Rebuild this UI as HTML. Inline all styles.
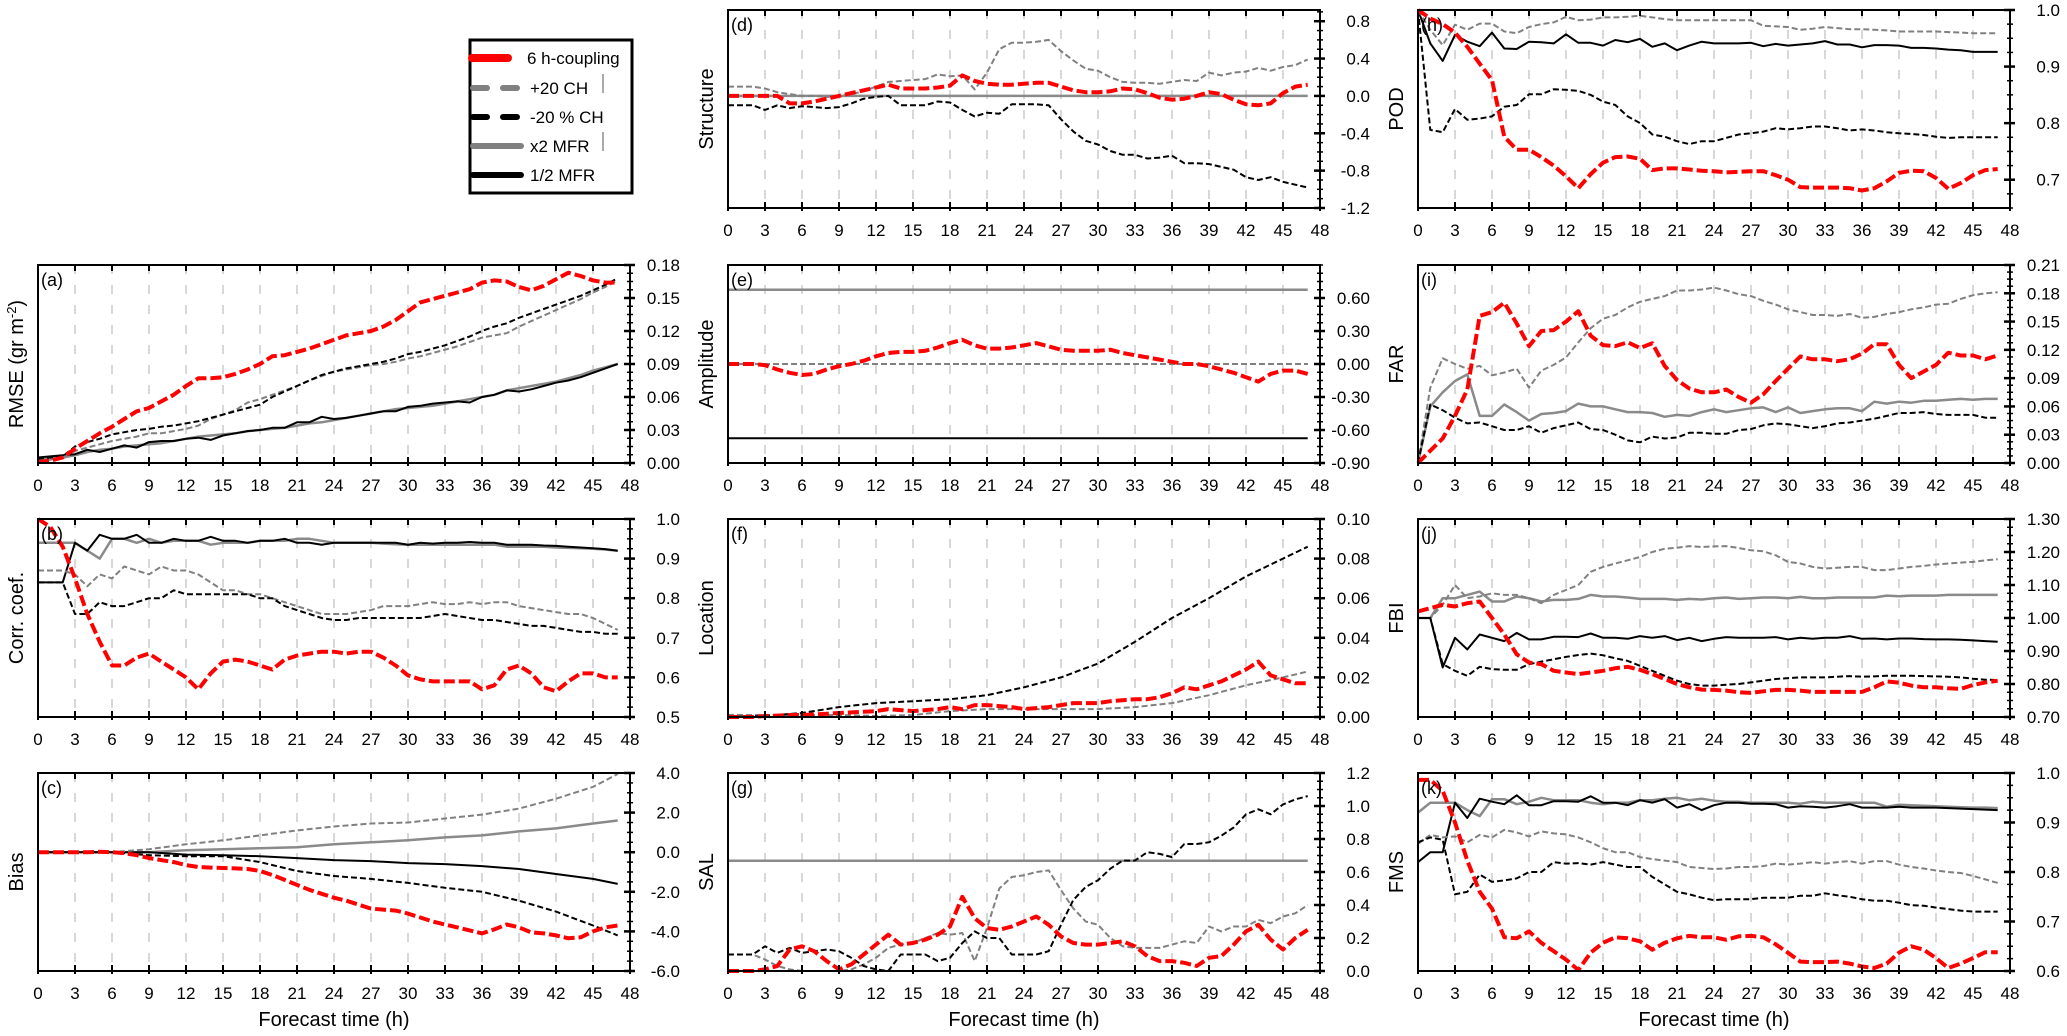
<!DOCTYPE html>
<html><head><meta charset="utf-8">
<style>
html,body{margin:0;padding:0;background:#fff;}
svg{display:block;font-family:"Liberation Sans",sans-serif;}
</style></head>
<body>
<svg id="fig" width="2067" height="1036" viewBox="0 0 2067 1036" xmlns="http://www.w3.org/2000/svg">
<g>
<rect x="470" y="40" width="162" height="153" fill="#fff" stroke="#000" stroke-width="3"/>
<g><line x1="472" y1="58" x2="508" y2="58" stroke="#f00" stroke-width="8" stroke-linecap="round"/><text x="527" y="64" font-size="17">6 h-coupling</text></g>
<g><line x1="473" y1="88" x2="520" y2="88" stroke="#808080" stroke-width="6" stroke-linecap="round" stroke-dasharray="14 16"/><text x="530" y="94" font-size="17">+20 CH</text><line x1="603" y1="74" x2="603" y2="93" stroke="#555" stroke-width="1"/></g>
<g><line x1="473" y1="117" x2="520" y2="117" stroke="#000" stroke-width="6" stroke-linecap="round" stroke-dasharray="14 16"/><text x="530" y="123" font-size="17">-20 % CH</text></g>
<g><line x1="473" y1="146" x2="521" y2="146" stroke="#808080" stroke-width="6" stroke-linecap="round"/><text x="530" y="152" font-size="17">x2 MFR</text><line x1="603" y1="132" x2="603" y2="151" stroke="#555" stroke-width="1"/></g>
<g><line x1="473" y1="175" x2="521" y2="175" stroke="#000" stroke-width="6" stroke-linecap="round"/><text x="530" y="181" font-size="17">1/2 MFR</text></g>
</g>
</svg>
<script>
// ---------- data ----------
const hours = [0,1,2,3,4,5,6,7,8,9,10,11,12,13,14,15,16,17,18,19,20,21,22,23,24,25,26,27,28,29,30,31,32,33,34,35,36,37,38,39,40,41,42,43,44,45,46,47];
const hours3 = [0,3,6,9,12,15,18,21,24,27,30,33,36,39,42,45,47];
const hoursFlat = [0,47];
const xTickLabels = ["0","3","6","9","12","15","18","21","24","27","30","33","36","39","42","45","48"];

// (a) RMSE
const rmseRed = [0.001,0.002,0.005,0.013,0.02,0.027,0.033,0.04,0.047,0.05,0.056,0.062,0.07,0.077,0.077,0.078,0.081,0.085,0.09,0.097,0.098,0.101,0.104,0.108,0.112,0.116,0.118,0.12,0.124,0.13,0.138,0.146,0.149,0.152,0.155,0.158,0.164,0.166,0.165,0.16,0.157,0.161,0.167,0.173,0.17,0.166,0.164,0.164];
const rmseBlackDash = [0.004,0.005,0.006,0.015,0.019,0.022,0.026,0.028,0.03,0.031,0.033,0.034,0.036,0.038,0.041,0.044,0.047,0.05,0.053,0.06,0.065,0.07,0.075,0.08,0.083,0.086,0.088,0.09,0.092,0.095,0.099,0.101,0.104,0.107,0.111,0.115,0.12,0.124,0.127,0.132,0.136,0.14,0.144,0.148,0.152,0.157,0.162,0.168];
const rmseGrayDash = [0.002,0.003,0.005,0.011,0.014,0.017,0.02,0.022,0.024,0.027,0.027,0.029,0.031,0.034,0.04,0.044,0.048,0.055,0.058,0.062,0.066,0.07,0.075,0.079,0.083,0.085,0.087,0.089,0.09,0.092,0.095,0.097,0.1,0.103,0.106,0.11,0.114,0.116,0.118,0.124,0.129,0.134,0.139,0.144,0.149,0.155,0.16,0.166];
const rmseGraySolid = [0.003,0.004,0.005,0.007,0.01,0.012,0.013,0.015,0.016,0.017,0.018,0.02,0.022,0.024,0.025,0.026,0.027,0.029,0.03,0.031,0.032,0.034,0.036,0.037,0.039,0.041,0.043,0.045,0.047,0.049,0.05,0.051,0.052,0.054,0.056,0.058,0.06,0.062,0.066,0.068,0.07,0.072,0.074,0.077,0.08,0.084,0.087,0.09];
const rmseBlackSolid = [0.005,0.006,0.007,0.008,0.012,0.01,0.013,0.016,0.014,0.019,0.02,0.02,0.022,0.023,0.021,0.025,0.027,0.029,0.03,0.032,0.032,0.037,0.037,0.042,0.04,0.041,0.043,0.045,0.047,0.047,0.051,0.052,0.054,0.055,0.056,0.055,0.06,0.062,0.066,0.065,0.067,0.07,0.073,0.075,0.078,0.082,0.086,0.09];
const rmseTicks = [0,0.03,0.06,0.09,0.12,0.15,0.18];
const rmseTickLabels = ["0.00","0.03","0.06","0.09","0.12","0.15","0.18"];

// (b) Correlation
const corrRed = [1.0,0.98,0.93,0.85,0.76,0.69,0.63,0.63,0.65,0.66,0.64,0.62,0.6,0.57,0.61,0.64,0.645,0.64,0.63,0.62,0.645,0.655,0.66,0.665,0.665,0.66,0.665,0.665,0.65,0.63,0.605,0.595,0.59,0.59,0.59,0.59,0.57,0.58,0.62,0.63,0.61,0.575,0.565,0.59,0.61,0.61,0.6,0.6];
const corrGraySolid = [0.94,0.94,0.94,0.94,0.92,0.9,0.95,0.95,0.94,0.95,0.94,0.945,0.945,0.945,0.935,0.94,0.94,0.94,0.945,0.945,0.945,0.95,0.95,0.945,0.94,0.94,0.94,0.94,0.938,0.936,0.935,0.935,0.935,0.935,0.935,0.935,0.935,0.935,0.93,0.93,0.93,0.93,0.928,0.927,0.926,0.925,0.923,0.92];
const corrBlackSolid = [0.84,0.84,0.84,0.94,0.92,0.96,0.95,0.95,0.96,0.94,0.94,0.95,0.945,0.945,0.955,0.945,0.945,0.94,0.945,0.945,0.95,0.94,0.94,0.935,0.94,0.94,0.94,0.94,0.94,0.94,0.935,0.94,0.938,0.94,0.94,0.942,0.94,0.94,0.935,0.935,0.935,0.933,0.932,0.93,0.928,0.926,0.924,0.92];
const corrGrayDash = [0.87,0.87,0.87,0.86,0.83,0.86,0.85,0.88,0.87,0.86,0.88,0.87,0.87,0.86,0.84,0.82,0.82,0.81,0.81,0.8,0.79,0.78,0.77,0.76,0.76,0.76,0.765,0.77,0.78,0.78,0.78,0.785,0.79,0.785,0.785,0.79,0.785,0.79,0.79,0.78,0.775,0.77,0.765,0.76,0.76,0.75,0.735,0.72];
const corrBlackDash = [0.84,0.84,0.84,0.76,0.76,0.79,0.78,0.78,0.79,0.8,0.8,0.82,0.81,0.81,0.81,0.81,0.81,0.81,0.8,0.8,0.78,0.77,0.76,0.75,0.745,0.745,0.75,0.75,0.75,0.75,0.75,0.75,0.755,0.76,0.755,0.75,0.745,0.745,0.74,0.735,0.73,0.73,0.725,0.72,0.715,0.715,0.71,0.71];
const corrTicks = [0.5,0.6,0.7,0.8,0.9,1.0];
const corrTickLabels = ["0.5","0.6","0.7","0.8","0.9","1.0"];

// (c) Bias
const biasRed = [0,0,0,0,0,0.02,0,-0.05,-0.15,-0.3,-0.4,-0.5,-0.65,-0.75,-0.78,-0.8,-0.82,-0.85,-0.95,-1.15,-1.4,-1.65,-1.9,-2.1,-2.3,-2.45,-2.65,-2.85,-2.9,-2.95,-3.1,-3.3,-3.5,-3.65,-3.8,-3.95,-4.1,-3.9,-3.65,-3.8,-4.05,-4.1,-4.2,-4.35,-4.3,-4.0,-3.8,-3.7];
const biasBlackDash = [0,0,0,-0.15,-0.2,-0.2,-0.5,-0.95,-1.2,-1.35,-1.55,-1.8,-2.0,-2.45,-3.0,-3.7,-4.2];
const biasBlackSolid = [0,0,0,0,-0.12,-0.15,-0.2,-0.3,-0.4,-0.45,-0.55,-0.6,-0.7,-0.85,-1.1,-1.35,-1.6];
const biasGraySolid = [0,0,0,0,0.1,0.15,0.2,0.25,0.4,0.5,0.6,0.75,0.85,1.05,1.2,1.45,1.6];
const biasGrayDash = [0,0,0,0.15,0.4,0.6,0.85,1.1,1.3,1.45,1.5,1.7,1.9,2.2,2.7,3.3,3.95];
const biasTicks = [-6,-4,-2,0,2,4];
const biasTickLabels = ["-6.0","-4.0","-2.0","0.0","2.0","4.0"];

// (d) Structure
const structRed = [0,0,0,0,0,-0.08,-0.08,-0.06,-0.03,0,0.03,0.06,0.09,0.12,0.08,0.08,0.08,0.09,0.11,0.22,0.16,0.13,0.12,0.12,0.13,0.14,0.14,0.1,0.06,0.04,0.04,0.05,0.08,0.07,0.03,-0.02,-0.04,-0.03,0,0.04,0.02,-0.04,-0.09,-0.1,-0.08,0.03,0.1,0.12];
const structGrayDash = [0.1,0.1,0.1,0.08,0.04,0.02,0,0,-0.01,0,0.02,0.05,0.1,0.15,0.16,0.17,0.18,0.23,0.21,0.22,0.07,0.25,0.5,0.57,0.57,0.58,0.6,0.48,0.38,0.29,0.27,0.2,0.15,0.14,0.14,0.13,0.15,0.17,0.16,0.25,0.22,0.25,0.26,0.3,0.27,0.31,0.33,0.39];
const structBlackDash = [-0.1,-0.1,-0.1,-0.15,-0.1,-0.13,-0.11,-0.12,-0.13,-0.12,-0.08,-0.03,-0.01,0,-0.1,-0.1,-0.1,-0.06,-0.07,-0.15,-0.22,-0.18,-0.19,-0.09,-0.09,-0.09,-0.1,-0.25,-0.38,-0.48,-0.52,-0.59,-0.63,-0.63,-0.67,-0.66,-0.64,-0.72,-0.72,-0.73,-0.76,-0.79,-0.87,-0.9,-0.87,-0.92,-0.95,-0.98];
const structGraySolid = [0,0];
const structTicks = [-1.2,-0.8,-0.4,0,0.4,0.8];
const structTickLabels = ["-1.2","-0.8","-0.4","0.0","0.4","0.8"];

// (e) Amplitude
const ampRed = [0,0,0,-0.01,-0.05,-0.08,-0.1,-0.09,-0.05,-0.02,0,0.03,0.07,0.1,0.11,0.11,0.12,0.15,0.19,0.22,0.17,0.14,0.14,0.15,0.17,0.19,0.16,0.13,0.12,0.12,0.12,0.13,0.1,0.08,0.06,0.04,0.02,0,0,-0.02,-0.05,-0.08,-0.12,-0.16,-0.09,-0.06,-0.06,-0.09];
const ampGraySolid = [0.675,0.675];
const ampBlackSolid = [-0.675,-0.675];
const ampDash = [0,0];
const ampTicks = [-0.9,-0.6,-0.3,0,0.3,0.6];
const ampTickLabels = ["-0.90","-0.60","-0.30","0.00","0.30","0.60"];

// (f) Location
const locRed = [0,0,0,0.0005,0.0007,0.001,0.001,0.0013,0.0016,0.002,0.0023,0.0027,0.003,0.004,0.0035,0.003,0.0035,0.004,0.005,0.004,0.006,0.006,0.0055,0.005,0.004,0.0045,0.005,0.006,0.007,0.007,0.007,0.008,0.0085,0.009,0.009,0.01,0.012,0.015,0.014,0.016,0.018,0.021,0.024,0.028,0.021,0.019,0.017,0.017];
const locBlackDash = [0,0.0005,0.002,0.005,0.007,0.008,0.009,0.011,0.015,0.02,0.027,0.038,0.05,0.06,0.071,0.08,0.086];
const locGrayDash = [0.001,0.001,0.001,0.001,0.0005,0.001,0.003,0.004,0.004,0.004,0.004,0.005,0.007,0.011,0.016,0.02,0.023];
const locTicks = [0,0.02,0.04,0.06,0.08,0.1];
const locTickLabels = ["0.00","0.02","0.04","0.06","0.08","0.10"];

// (g) SAL
const salRed = [0,0,0,0.01,0.03,0.13,0.15,0.12,0.06,0.01,0.04,0.1,0.16,0.22,0.16,0.17,0.19,0.22,0.27,0.45,0.32,0.26,0.25,0.27,0.3,0.33,0.28,0.21,0.17,0.16,0.16,0.17,0.18,0.15,0.09,0.06,0.06,0.05,0.03,0.08,0.09,0.16,0.24,0.28,0.19,0.13,0.2,0.25];
const salGrayDash = [0.1,0.1,0.1,0.07,0.03,0.01,0,0,0,0,0.01,0.04,0.08,0.14,0.16,0.17,0.2,0.23,0.22,0.23,0.06,0.26,0.5,0.57,0.58,0.6,0.61,0.49,0.38,0.3,0.28,0.2,0.15,0.14,0.14,0.14,0.16,0.18,0.17,0.27,0.24,0.27,0.27,0.31,0.29,0.33,0.35,0.4];
const salBlackDash = [0.1,0.1,0.1,0.15,0.11,0.14,0.11,0.12,0.13,0.12,0.08,0.03,0.01,0,0.1,0.1,0.1,0.06,0.08,0.17,0.24,0.2,0.2,0.1,0.1,0.1,0.12,0.28,0.43,0.51,0.55,0.62,0.67,0.67,0.72,0.71,0.69,0.77,0.77,0.78,0.82,0.87,0.95,0.98,0.95,1.01,1.04,1.06];
const salGraySolid = [0.668,0.668];
const salTicks = [0,0.2,0.4,0.6,0.8,1.0,1.2];
const salTickLabels = ["0.0","0.2","0.4","0.6","0.8","1.0","1.2"];

// (h) POD
const podRed = [1.0,0.985,0.975,0.96,0.935,0.905,0.876,0.776,0.753,0.753,0.74,0.725,0.706,0.685,0.71,0.73,0.74,0.741,0.737,0.717,0.72,0.72,0.718,0.716,0.715,0.713,0.714,0.715,0.715,0.708,0.7,0.687,0.686,0.686,0.686,0.685,0.681,0.685,0.697,0.712,0.716,0.715,0.703,0.684,0.694,0.708,0.717,0.719];
const podGrayDash = [1.0,0.965,0.938,0.974,0.965,0.976,0.976,0.962,0.959,0.97,0.975,0.978,0.988,0.982,0.983,0.987,0.987,0.988,0.99,0.987,0.984,0.982,0.982,0.982,0.982,0.982,0.982,0.982,0.972,0.971,0.97,0.965,0.967,0.97,0.968,0.966,0.966,0.965,0.964,0.962,0.962,0.962,0.962,0.961,0.96,0.959,0.959,0.959];
const podBlackSolid = [1.0,0.941,0.91,0.956,0.944,0.936,0.96,0.932,0.931,0.944,0.943,0.941,0.957,0.942,0.942,0.937,0.947,0.943,0.949,0.935,0.941,0.929,0.937,0.944,0.941,0.941,0.941,0.942,0.936,0.94,0.937,0.939,0.941,0.945,0.939,0.939,0.934,0.938,0.938,0.937,0.933,0.933,0.932,0.93,0.929,0.926,0.926,0.926];
const podBlackDash = [1.0,0.788,0.784,0.825,0.806,0.808,0.812,0.829,0.832,0.851,0.851,0.86,0.859,0.857,0.85,0.838,0.832,0.812,0.8,0.78,0.776,0.768,0.763,0.768,0.768,0.774,0.78,0.782,0.785,0.791,0.789,0.791,0.794,0.794,0.791,0.787,0.789,0.787,0.784,0.782,0.781,0.779,0.776,0.774,0.775,0.775,0.775,0.775];
const podTicks = [0.7,0.8,0.9,1.0];
const podTickLabels = ["0.7","0.8","0.9","1.0"];

// (i) FAR
const farRed = [0,0.013,0.026,0.05,0.078,0.156,0.16,0.17,0.148,0.124,0.14,0.141,0.15,0.161,0.135,0.125,0.124,0.128,0.122,0.127,0.103,0.088,0.079,0.075,0.075,0.078,0.07,0.064,0.073,0.087,0.1,0.113,0.11,0.11,0.108,0.11,0.116,0.126,0.126,0.104,0.09,0.097,0.104,0.117,0.114,0.114,0.11,0.114];
const farGrayDash = [0,0.08,0.111,0.105,0.1,0.103,0.093,0.096,0.1,0.08,0.098,0.104,0.112,0.128,0.143,0.153,0.157,0.165,0.171,0.174,0.177,0.183,0.183,0.184,0.186,0.183,0.179,0.177,0.172,0.168,0.163,0.16,0.157,0.157,0.156,0.158,0.154,0.155,0.158,0.16,0.163,0.165,0.168,0.169,0.174,0.178,0.18,0.181];
const farGraySolid = [0,0.06,0.075,0.087,0.094,0.05,0.05,0.062,0.054,0.045,0.052,0.053,0.055,0.063,0.06,0.06,0.057,0.054,0.054,0.053,0.049,0.051,0.05,0.054,0.057,0.054,0.056,0.058,0.059,0.054,0.059,0.053,0.055,0.057,0.058,0.058,0.055,0.065,0.063,0.065,0.064,0.066,0.066,0.067,0.068,0.067,0.068,0.068];
const farBlackDash = [0,0.062,0.056,0.048,0.042,0.043,0.039,0.035,0.035,0.039,0.032,0.037,0.04,0.043,0.036,0.035,0.03,0.024,0.022,0.028,0.026,0.027,0.032,0.032,0.031,0.031,0.035,0.036,0.04,0.042,0.041,0.039,0.037,0.039,0.042,0.043,0.045,0.047,0.05,0.053,0.053,0.054,0.052,0.051,0.051,0.051,0.048,0.048];
const farTicks = [0,0.03,0.06,0.09,0.12,0.15,0.18,0.21];
const farTickLabels = ["0.00","0.03","0.06","0.09","0.12","0.15","0.18","0.21"];

// (j) FBI
const fbiRed = [1.02,1.03,1.04,1.035,1.045,1.05,1.0,0.95,0.89,0.865,0.86,0.84,0.835,0.83,0.835,0.84,0.848,0.852,0.843,0.83,0.815,0.8,0.79,0.783,0.782,0.78,0.775,0.773,0.778,0.782,0.782,0.78,0.776,0.776,0.776,0.776,0.776,0.79,0.808,0.804,0.795,0.79,0.79,0.787,0.785,0.797,0.805,0.81];
const fbiGrayDash = [1.0,1.0,1.04,1.1,1.06,1.065,1.075,1.07,1.07,1.06,1.045,1.07,1.085,1.1,1.14,1.155,1.165,1.175,1.185,1.2,1.21,1.213,1.218,1.215,1.217,1.218,1.212,1.205,1.202,1.19,1.17,1.165,1.155,1.15,1.152,1.155,1.155,1.145,1.145,1.15,1.155,1.158,1.162,1.165,1.168,1.17,1.175,1.178];
const fbiGraySolid = [1.0,1.0,1.06,1.06,1.07,1.08,1.05,1.05,1.065,1.06,1.05,1.055,1.055,1.058,1.07,1.065,1.065,1.062,1.058,1.058,1.058,1.055,1.058,1.056,1.06,1.062,1.058,1.06,1.062,1.062,1.06,1.064,1.06,1.06,1.062,1.062,1.062,1.062,1.068,1.066,1.068,1.068,1.068,1.07,1.07,1.07,1.07,1.07];
const fbiBlackSolid = [1.0,1.0,0.85,0.94,0.905,0.95,0.94,0.93,0.955,0.935,0.935,0.943,0.943,0.942,0.953,0.94,0.94,0.937,0.945,0.94,0.945,0.933,0.94,0.93,0.937,0.942,0.94,0.94,0.94,0.942,0.935,0.94,0.937,0.94,0.94,0.945,0.937,0.938,0.935,0.938,0.938,0.936,0.935,0.935,0.934,0.932,0.93,0.928];
const fbiBlackDash = [1.0,1.0,0.86,0.84,0.825,0.852,0.845,0.843,0.843,0.86,0.868,0.875,0.882,0.888,0.892,0.887,0.878,0.87,0.855,0.84,0.825,0.81,0.8,0.795,0.795,0.798,0.8,0.805,0.81,0.815,0.818,0.82,0.82,0.82,0.822,0.824,0.822,0.823,0.825,0.825,0.825,0.824,0.823,0.822,0.82,0.816,0.813,0.812];
const fbiTicks = [0.7,0.8,0.9,1.0,1.1,1.2,1.3];
const fbiTickLabels = ["0.70","0.80","0.90","1.00","1.10","1.20","1.30"];

// (k) FMS
const fmsRed = [0.986,0.986,0.964,0.9,0.823,0.76,0.726,0.668,0.666,0.68,0.657,0.64,0.623,0.602,0.637,0.657,0.668,0.666,0.66,0.643,0.657,0.666,0.671,0.668,0.668,0.663,0.67,0.671,0.668,0.654,0.637,0.619,0.618,0.618,0.619,0.615,0.609,0.606,0.615,0.637,0.65,0.643,0.626,0.606,0.615,0.626,0.638,0.638];
const fmsGraySolid = [0.92,0.94,0.94,0.94,0.925,0.913,0.947,0.947,0.937,0.942,0.95,0.945,0.945,0.945,0.94,0.937,0.94,0.94,0.945,0.945,0.948,0.95,0.945,0.948,0.944,0.942,0.942,0.94,0.94,0.94,0.94,0.938,0.942,0.94,0.94,0.94,0.94,0.94,0.932,0.936,0.935,0.934,0.933,0.932,0.931,0.93,0.93,0.929];
const fmsBlackSolid = [0.82,0.84,0.84,0.94,0.909,0.948,0.942,0.937,0.955,0.935,0.935,0.943,0.943,0.942,0.953,0.94,0.94,0.935,0.945,0.94,0.947,0.93,0.937,0.925,0.935,0.94,0.94,0.938,0.938,0.937,0.93,0.933,0.932,0.93,0.933,0.937,0.93,0.93,0.93,0.932,0.93,0.93,0.93,0.929,0.928,0.927,0.926,0.925];
const fmsGrayDash = [0.857,0.875,0.87,0.872,0.86,0.875,0.87,0.885,0.88,0.872,0.882,0.878,0.876,0.87,0.86,0.848,0.84,0.84,0.83,0.826,0.823,0.82,0.81,0.808,0.806,0.807,0.81,0.81,0.812,0.817,0.815,0.817,0.82,0.817,0.82,0.822,0.817,0.822,0.822,0.815,0.81,0.807,0.803,0.8,0.798,0.792,0.785,0.778];
const fmsBlackDash = [0.86,0.87,0.865,0.755,0.76,0.795,0.78,0.783,0.787,0.8,0.8,0.82,0.817,0.818,0.815,0.82,0.815,0.81,0.81,0.79,0.775,0.76,0.755,0.748,0.743,0.745,0.745,0.745,0.748,0.748,0.748,0.752,0.752,0.757,0.753,0.75,0.745,0.742,0.742,0.738,0.733,0.732,0.728,0.725,0.722,0.72,0.72,0.72];
const fmsTicks = [0.6,0.7,0.8,0.9,1.0];
const fmsTickLabels = ["0.6","0.7","0.8","0.9","1.0"];

// ---------- drawing ----------
const NS = "http://www.w3.org/2000/svg";
const svg = document.getElementById("fig");
const STY = {
  red:{stroke:"#ff0000",w:4,dash:"11 4"},
  grayDash:{stroke:"#808080",w:2,dash:"6 3"},
  blackDash:{stroke:"#000",w:2,dash:"6 3"},
  graySolid:{stroke:"#8a8a8a",w:2.5,dash:null},
  blackSolid:{stroke:"#000",w:2,dash:null}
};
function mk(tag, attrs, parent){
  const e = document.createElementNS(NS, tag);
  for (const k in attrs) e.setAttribute(k, attrs[k]);
  (parent||svg).appendChild(e);
  return e;
}
function panel(p){
  const L=p.x, T=p.y, W=592, H=198, R=L+W, B=T+H;
  const g = mk("g",{});
  
  
  const xs = h => L + h/48*W;
  const ys = v => B - (v-p.min)/(p.max-p.min)*H;
  for (let i=1;i<16;i++){
    const gl = mk("line",{x1:xs(i*3),x2:xs(i*3),y1:T,y2:B,stroke:"#b0b0b0","stroke-width":1,"stroke-dasharray":"9 11"},g);
    
    
  }
  p.series.forEach(s=>{
    const st = STY[s.style];
    const pts = s.y.map((v,i)=>xs(s.x[i]).toFixed(1)+","+ys(v).toFixed(1)).join(" ");
    const pl = mk("polyline",{points:pts,fill:"none",stroke:st.stroke,"stroke-width":st.w,"stroke-linejoin":"round"},g);
    if (st.dash) pl.setAttribute("stroke-dasharray", st.dash);
    
    
  });
  const fr = mk("rect",{x:L,y:T,width:W,height:H,fill:"none",stroke:"#000","stroke-width":2},g);
  
  
  xTickLabels.forEach((lab,i)=>{
    const x = xs(i*3);
    mk("line",{x1:x,x2:x,y1:T,y2:T+6,stroke:"#000","stroke-width":2},g);
    mk("line",{x1:x,x2:x,y1:B-6,y2:B+3,stroke:"#000","stroke-width":2},g);
    const t = mk("text",{x:x,y:B+28,"font-size":17,"text-anchor":"middle"},g);
    t.textContent = lab;
    
    
  });
  const step = p.ticks[1]-p.ticks[0];
  for (let v=p.min; v<=p.max+1e-9; v+=step/4){
    const y = ys(v);
    if (y < T-0.5) continue;
    mk("line",{x1:R-3,x2:R+3,y1:y,y2:y,stroke:"#000","stroke-width":1.5},g);
  }
  p.ticks.forEach((v,i)=>{
    const y = ys(v);
    mk("line",{x1:R-6,x2:R+5,y1:y,y2:y,stroke:"#000","stroke-width":2.5},g);
    const t = mk("text",{x:R+50,y:y+6,"font-size":17,"text-anchor":"end"},g);
    t.textContent = p.tickLabels[i];
    
    
  });
  const yl = mk("text",{x:0,y:0,"font-size":20,"text-anchor":"middle",transform:`translate(${L-15},${T+H/2}) rotate(-90)`},g);
  yl.innerHTML = p.ylabel;
  
  
  const pl = mk("text",{x:L+3,y:T+21,"font-size":18},g);
  pl.textContent = "(" + p.id + ")";
  
  
  if (p.xlabel){
    const xl = mk("text",{x:L+W/2,y:B+55,"font-size":20,"text-anchor":"middle"},g);
    xl.textContent = "Forecast time (h)";
    
    
  }
}
const C1=38, C2=728, C3=1418, R1=10, R2=265, R3=519, R4=773;
panel({id:"a",x:C1,y:R2,min:0,max:0.18,ticks:rmseTicks,tickLabels:rmseTickLabels,ylabel:'RMSE (gr m<tspan dy="-7" font-size="13">-2</tspan><tspan dy="7">)</tspan>',series:[
 {name:"x2-mfr",style:"graySolid",x:hours,y:rmseGraySolid},{name:"half-mfr",style:"blackSolid",x:hours,y:rmseBlackSolid},
 {name:"plus20-ch",style:"grayDash",x:hours,y:rmseGrayDash},{name:"minus20-ch",style:"blackDash",x:hours,y:rmseBlackDash},{name:"6h-coupling",style:"red",x:hours,y:rmseRed}]});
panel({id:"b",x:C1,y:R3,min:0.5,max:1.0,ticks:corrTicks,tickLabels:corrTickLabels,ylabel:"Corr. coef.",series:[
 {name:"x2-mfr",style:"graySolid",x:hours,y:corrGraySolid},{name:"half-mfr",style:"blackSolid",x:hours,y:corrBlackSolid},
 {name:"plus20-ch",style:"grayDash",x:hours,y:corrGrayDash},{name:"minus20-ch",style:"blackDash",x:hours,y:corrBlackDash},{name:"6h-coupling",style:"red",x:hours,y:corrRed}]});
panel({id:"c",x:C1,y:R4,min:-6,max:4,ticks:biasTicks,tickLabels:biasTickLabels,ylabel:"Bias",xlabel:true,series:[
 {name:"x2-mfr",style:"graySolid",x:hours3,y:biasGraySolid},{name:"half-mfr",style:"blackSolid",x:hours3,y:biasBlackSolid},
 {name:"plus20-ch",style:"grayDash",x:hours3,y:biasGrayDash},{name:"minus20-ch",style:"blackDash",x:hours3,y:biasBlackDash},{name:"6h-coupling",style:"red",x:hours,y:biasRed}]});
panel({id:"d",x:C2,y:R1,min:-1.2,max:0.92,ticks:structTicks,tickLabels:structTickLabels,ylabel:"Structure",series:[
 {name:"x2-mfr",style:"graySolid",x:hoursFlat,y:structGraySolid},
 {name:"plus20-ch",style:"grayDash",x:hours,y:structGrayDash},{name:"minus20-ch",style:"blackDash",x:hours,y:structBlackDash},{name:"6h-coupling",style:"red",x:hours,y:structRed}]});
panel({id:"e",x:C2,y:R2,min:-0.9,max:0.9,ticks:ampTicks,tickLabels:ampTickLabels,ylabel:"Amplitude",series:[
 {name:"x2-mfr",style:"graySolid",x:hoursFlat,y:ampGraySolid},{name:"half-mfr",style:"blackSolid",x:hoursFlat,y:ampBlackSolid},
 {name:"minus20-ch",style:"blackDash",x:hoursFlat,y:ampDash},{name:"plus20-ch",style:"grayDash",x:hoursFlat,y:ampDash},{name:"6h-coupling",style:"red",x:hours,y:ampRed}]});
panel({id:"f",x:C2,y:R3,min:0,max:0.1,ticks:locTicks,tickLabels:locTickLabels,ylabel:"Location",series:[
 {name:"plus20-ch",style:"grayDash",x:hours3,y:locGrayDash},{name:"minus20-ch",style:"blackDash",x:hours3,y:locBlackDash},{name:"6h-coupling",style:"red",x:hours,y:locRed}]});
panel({id:"g",x:C2,y:R4,min:0,max:1.2,ticks:salTicks,tickLabels:salTickLabels,ylabel:"SAL",xlabel:true,series:[
 {name:"x2-mfr",style:"graySolid",x:hoursFlat,y:salGraySolid},
 {name:"plus20-ch",style:"grayDash",x:hours,y:salGrayDash},{name:"minus20-ch",style:"blackDash",x:hours,y:salBlackDash},{name:"6h-coupling",style:"red",x:hours,y:salRed}]});
panel({id:"h",x:C3,y:R1,min:0.65,max:1.0,ticks:podTicks,tickLabels:podTickLabels,ylabel:"POD",series:[
 {name:"half-mfr",style:"blackSolid",x:hours,y:podBlackSolid},
 {name:"plus20-ch",style:"grayDash",x:hours,y:podGrayDash},{name:"minus20-ch",style:"blackDash",x:hours,y:podBlackDash},{name:"6h-coupling",style:"red",x:hours,y:podRed}]});
panel({id:"i",x:C3,y:R2,min:0,max:0.21,ticks:farTicks,tickLabels:farTickLabels,ylabel:"FAR",series:[
 {name:"x2-mfr",style:"graySolid",x:hours,y:farGraySolid},
 {name:"plus20-ch",style:"grayDash",x:hours,y:farGrayDash},{name:"minus20-ch",style:"blackDash",x:hours,y:farBlackDash},{name:"6h-coupling",style:"red",x:hours,y:farRed}]});
panel({id:"j",x:C3,y:R3,min:0.7,max:1.3,ticks:fbiTicks,tickLabels:fbiTickLabels,ylabel:"FBI",series:[
 {name:"x2-mfr",style:"graySolid",x:hours,y:fbiGraySolid},{name:"half-mfr",style:"blackSolid",x:hours,y:fbiBlackSolid},
 {name:"plus20-ch",style:"grayDash",x:hours,y:fbiGrayDash},{name:"minus20-ch",style:"blackDash",x:hours,y:fbiBlackDash},{name:"6h-coupling",style:"red",x:hours,y:fbiRed}]});
panel({id:"k",x:C3,y:R4,min:0.6,max:1.0,ticks:fmsTicks,tickLabels:fmsTickLabels,ylabel:"FMS",xlabel:true,series:[
 {name:"x2-mfr",style:"graySolid",x:hours,y:fmsGraySolid},{name:"half-mfr",style:"blackSolid",x:hours,y:fmsBlackSolid},
 {name:"plus20-ch",style:"grayDash",x:hours,y:fmsGrayDash},{name:"minus20-ch",style:"blackDash",x:hours,y:fmsBlackDash},{name:"6h-coupling",style:"red",x:hours,y:fmsRed}]});
</script>
</body></html>
